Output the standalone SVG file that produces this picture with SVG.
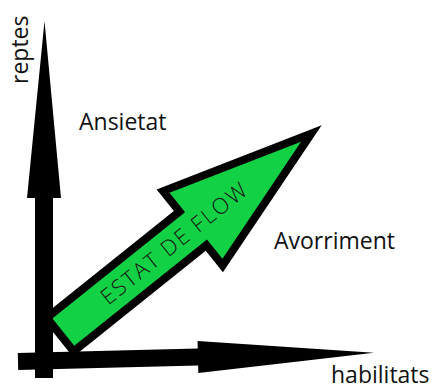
<svg xmlns="http://www.w3.org/2000/svg" width="432" height="385" viewBox="0 0 432 385">
<style>
.lbl{font-family:"Open Sans","Liberation Sans",sans-serif;font-size:23px;fill:#111}
.flow{font-family:"Open Sans","Liberation Sans",sans-serif;font-weight:300;font-size:22px;fill:#111}
.blk{fill:#000}
.grn{fill:#13D145}
</style>
<rect width="432" height="385" fill="#fff"/>
<g id="flow-arrow" transform="translate(63.35,332.15) rotate(-38.7)">
<polygon class="blk" points="-8,-25.5 162,-25.5 162,-53 331,0 162,53 162,25.5 -8,25.5"/>
<polygon class="grn" points="0,-17.5 170,-17.5 170,-42.3 304.6,0 170,42.3 170,17.5 0,17.5"/>
<text class="flow" x="141.5" y="7.5" text-anchor="middle" textLength="180" lengthAdjust="spacing">ESTAT DE FLOW</text>
</g>
<g id="axes">
<polygon id="axis-y" class="blk" points="35,378 35,198 27,198 44.5,21 61,198 53,198 53,378"/>
<polygon id="axis-x" class="blk" transform="translate(18,361.5) rotate(-1.4)" points="0,-8.5 180,-8.5 180,-16 356,0 180,16 180,8.5 0,8.5"/>
</g>
<g id="label-reptes"><text class="lbl" transform="translate(28,84) rotate(-90)">reptes</text></g>
<g id="label-ansietat"><text class="lbl" x="79" y="129.5">Ansietat</text></g>
<g id="label-avorriment"><text class="lbl" x="274" y="248.5">Avorriment</text></g>
<g id="label-habilitats"><text class="lbl" x="331" y="382.5">habilitats</text></g>
</svg>
